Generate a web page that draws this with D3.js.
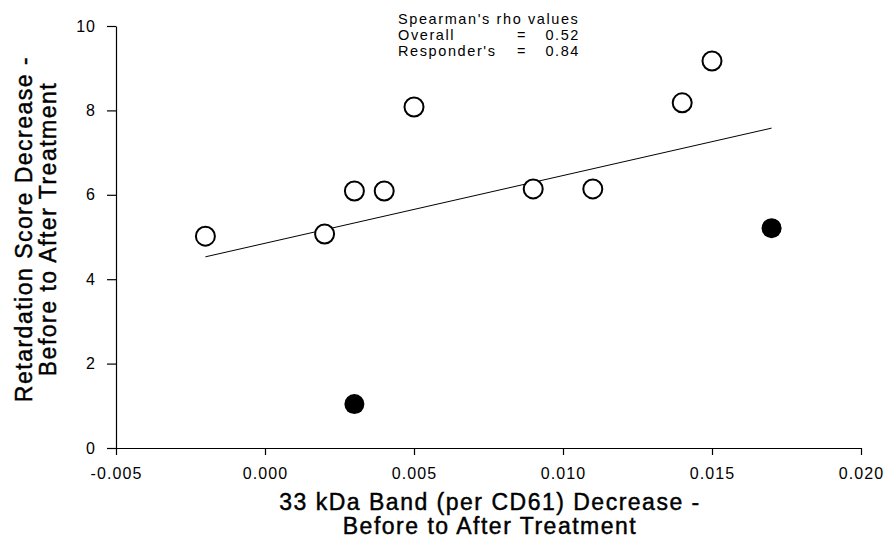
<!DOCTYPE html>
<html><head><meta charset="utf-8">
<script src="https://cdn.jsdelivr.net/npm/d3@7"></script>
<style>body{margin:0;background:#fff}svg{display:block}text{font-family:"Liberation Sans",Arial,sans-serif;fill:#000}</style>
</head><body>
<svg id="c" width="888" height="539"></svg>
<script>
const respX = [-0.002, 0.002, 0.003, 0.004, 0.005, 0.009, 0.011, 0.014, 0.015];
const respY = [5.02, 5.07, 6.09, 6.09, 8.08, 6.14, 6.14, 8.18, 9.17];
const nonX = [0.003, 0.017];
const nonY = [1.04, 5.21];
const fitX = [-0.002, 0.017];
const fitY = [4.53, 7.58];
const xTicks = [-0.005, 0, 0.005, 0.010, 0.015, 0.020];
const yTicks = [0, 2, 4, 6, 8, 10];
const statLines = [["Spearman's rho values", "", ""], ["Overall", "=", "0.52"], ["Responder's", "=", "0.84"]];

const svg = d3.select("#c");
const x = d3.scaleLinear().domain([-0.005, 0.020]).range([116, 861]);
const y = d3.scaleLinear().domain([0, 10]).range([448, 26]);

const fmtX = d => d3.format(".3f")(d).replace("\u2212", "-");
const xa = svg.append("g").attr("transform", "translate(0,448)")
  .call(d3.axisBottom(x).tickValues(xTicks).tickFormat(fmtX).tickSize(7).tickSizeOuter(0));
xa.selectAll("text").attr("font-size", 16).attr("y", 20).attr("dy", "0.71em").style("letter-spacing", "1.1px");
const ya = svg.append("g").attr("transform", "translate(116,0)")
  .call(d3.axisLeft(y).tickValues(yTicks).tickFormat(d3.format("d")).tickSize(9).tickSizeOuter(0));
ya.selectAll("text").attr("font-size", 16).attr("x", -20).style("letter-spacing", "1px");
svg.selectAll(".domain, .tick line").attr("stroke", "#000").attr("stroke-width", 1.2);

svg.append("line")
  .attr("x1", x(fitX[0])).attr("y1", y(fitY[0]))
  .attr("x2", x(fitX[1])).attr("y2", y(fitY[1]))
  .attr("stroke", "#000").attr("stroke-width", 1);

svg.selectAll("circle.r").data(respX.map((d, i) => [d, respY[i]])).join("circle")
  .attr("class", "r").attr("cx", d => x(d[0])).attr("cy", d => y(d[1])).attr("r", 9.5)
  .attr("fill", "#fff").attr("stroke", "#000").attr("stroke-width", 2);
svg.selectAll("circle.n").data(nonX.map((d, i) => [d, nonY[i]])).join("circle")
  .attr("class", "n").attr("cx", d => x(d[0])).attr("cy", d => y(d[1])).attr("r", 10)
  .attr("fill", "#000");

const st = svg.append("g").attr("font-size", 14.5);
statLines.forEach((l, i) => {
  const yy = 23.5 + i * 16;
  st.append("text").attr("x", 398).attr("y", yy).text(l[0]).style("letter-spacing", "1.6px");
  st.append("text").attr("x", 517).attr("y", yy).text(l[1]);
  st.append("text").attr("x", 580).attr("y", yy).attr("text-anchor", "end").text(l[2]).style("letter-spacing", "1.6px");
});

const titleStyle = t => t.attr("text-anchor", "middle").attr("font-size", 23)
  .attr("stroke", "#000").attr("stroke-width", 0.45).style("letter-spacing", "1.5px");
const xt = svg.append("text").call(titleStyle);
xt.append("tspan").attr("x", 490).attr("y", 510).text("33 kDa Band (per CD61) Decrease -");
xt.append("tspan").attr("x", 490).attr("y", 534).text("Before to After Treatment");

const yt = svg.append("text").call(titleStyle).attr("transform", "translate(0,229) rotate(-90)");
yt.append("tspan").attr("x", 0).attr("y", 32).text("Retardation Score Decrease -");
yt.append("tspan").attr("x", 0).attr("y", 56).text("Before to After Treatment");
</script>
</body></html>
